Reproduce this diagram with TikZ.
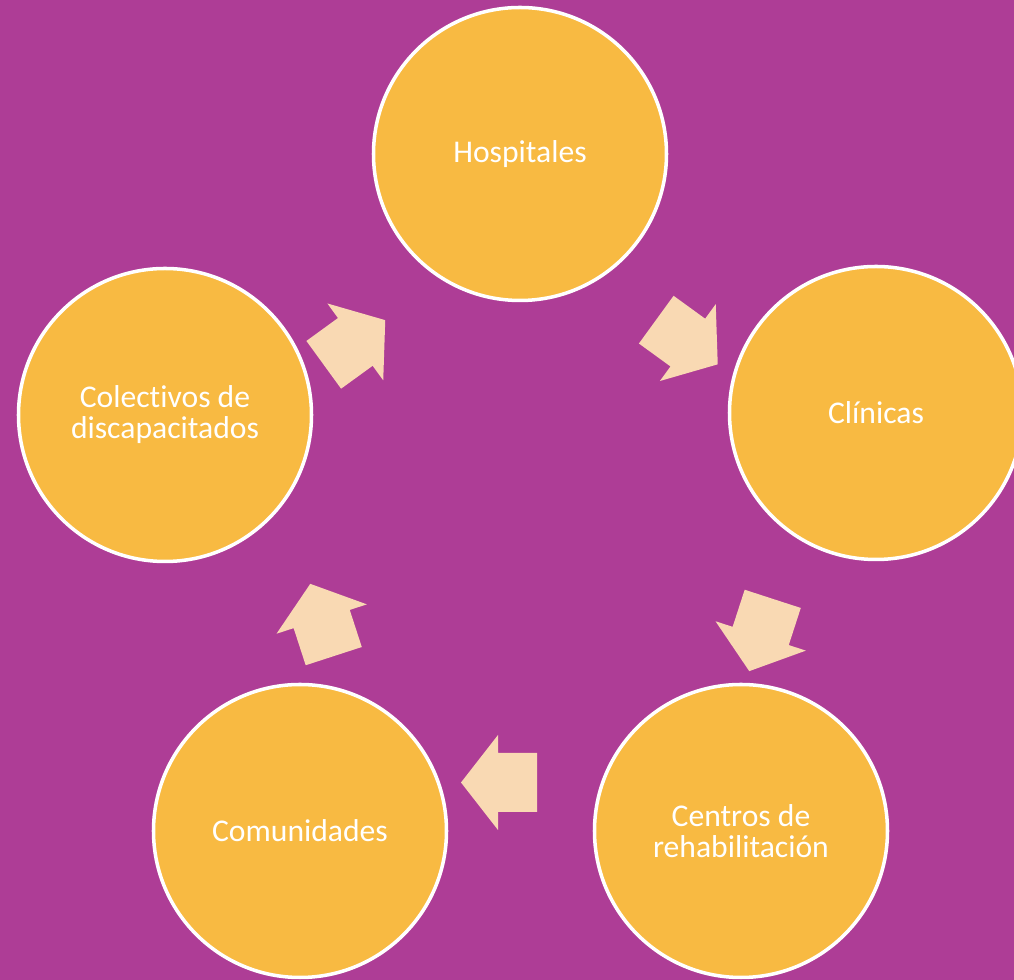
\documentclass[tikz,border=0pt]{standalone}
\usepackage{fontspec}
\setmainfont{Carlito}[Ligatures=NoCommon]
\usetikzlibrary{shapes,arrows.meta}
\definecolor{cyclebg}{HTML}{AE3D96}
\definecolor{stagefill}{HTML}{F8BA42}
\definecolor{arrowpeach}{HTML}{F9D9B3}
\tikzset{
  stage/.style={circle,draw=white,line width=2pt,fill=stagefill,
    minimum size=5.86cm,inner sep=0pt,align=center,text=white,
    font=\fontsize{18}{17.6}\selectfont},
  blockarrow/.pic={
    \fill[arrowpeach] (-0.76,-0.59) -- (0.02,-0.59) -- (0.02,-0.95) -- (0.76,0)
      -- (0.02,0.95) -- (0.02,0.59) -- (-0.76,0.59) -- cycle;}
}
\begin{document}
\begin{tikzpicture}
  \useasboundingbox (0,0) rectangle (20.28,19.6);
  \clip (0,0) rectangle (20.28,19.6);
  \fill[cyclebg] (0,0) rectangle (20.28,19.6);
  \begin{scope}[every node/.style={stage}]
    \node (hosp) at (10.40,16.52) {Hospitales};
    \node (clin) at (17.52,11.34) {Clínicas};
    \node (cent) at (14.82,2.98)  {Centros de\\rehabilitación};
    \node (comu) at (6.00,2.98)   {Comunidades};
    \node (cole) at (3.30,11.30)  {Colectivos de\\discapacitados};
  \end{scope}
  \begin{scope}
    \pic[rotate=-36]  at (13.74,12.76) {blockarrow};
    \pic[rotate=-108] at (15.22,6.90)  {blockarrow};
    \pic[rotate=180]  at (9.98,3.95)   {blockarrow};
    \pic[rotate=108]  at (6.44,7.20)   {blockarrow};
    \pic[rotate=36]   at (7.09,12.75)  {blockarrow};
  \end{scope}
\end{tikzpicture}
\end{document}
